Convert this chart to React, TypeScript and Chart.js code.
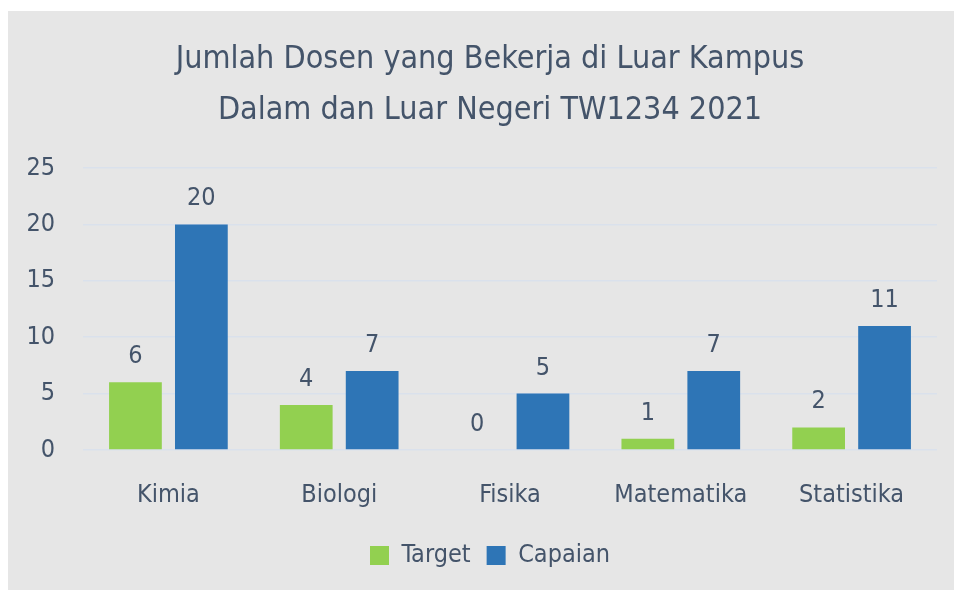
import React, { useEffect, useRef } from "react";
import { Chart, registerables } from "chart.js";

Chart.register(...registerables);

const categories = ["Kimia", "Biologi", "Fisika", "Matematika", "Statistika"];
const targetValues = [6, 4, 0, 1, 2];
const capaianValues = [20, 7, 5, 7, 11];
const titleLines = ["Jumlah Dosen yang Bekerja di Luar Kampus", "Dalam dan Luar Negeri TW1234 2021"];
const seriesNames = ["Target", "Capaian"];

const FONT = "'DejaVu Sans Condensed', 'Liberation Sans', sans-serif";
const TEXT = "#44546a";

const valueLabels = {
  id: "valueLabels",
  afterDatasetsDraw(chart: any) {
    const ctx = chart.ctx;
    ctx.save();
    ctx.font = `25px ${FONT}`;
    ctx.fillStyle = TEXT;
    ctx.textAlign = "center";
    ctx.textBaseline = "alphabetic";
    chart.data.datasets.forEach((ds: any, di: number) => {
      const meta = chart.getDatasetMeta(di);
      meta.data.forEach((el: any, i: number) => {
        ctx.fillText(String(ds.data[i]), el.x, el.y - 19);
      });
    });
    ctx.restore();
  },
};

export default function App() {
  const ref = useRef<HTMLCanvasElement>(null);
  useEffect(() => {
    document.body.style.overflow = "hidden";
    document.documentElement.style.overflow = "hidden";
    const chart = new Chart(ref.current!, {
      type: "bar",
      data: {
        labels: categories,
        datasets: [
          { label: seriesNames[0], data: targetValues, backgroundColor: "#92d050" },
          { label: seriesNames[1], data: capaianValues, backgroundColor: "#2e75b6" },
        ],
      },
      options: {
        animation: false,
        responsive: false,
        maintainAspectRatio: false,
        layout: { padding: { left: 0, right: 0, top: 0, bottom: 12 } },
        datasets: { bar: { categoryPercentage: 0.772, barPercentage: 0.8 } },
        scales: {
          x: {
            grid: { display: false },
            border: { display: false },
            ticks: { color: TEXT, font: { family: FONT, size: 25 }, padding: 22 },
            afterFit: (s: any) => { s.height = 77; },
          },
          y: {
            min: 0,
            max: 25,
            ticks: { stepSize: 5, color: TEXT, font: { family: FONT, size: 25 }, padding: 28 },
            grid: { color: "#dae1ec", drawTicks: false, lineWidth: 1.5 },
            border: { display: false },
            afterFit: (s: any) => { s.width = 75; },
          },
          yRight: {
            position: "right",
            display: true,
            grid: { display: false },
            border: { display: false },
            ticks: { display: false },
            afterFit: (s: any) => { s.width = 35; },
          },
        },
        plugins: {
          title: {
            display: true,
            text: titleLines,
            color: TEXT,
            font: { family: FONT, size: 32, weight: "normal", lineHeight: 1.594 },
            padding: { top: 23, bottom: 32 },
          },
          legend: {
            position: "bottom",
            labels: {
              color: TEXT,
              font: { family: FONT, size: 25 },
              boxWidth: 19,
              boxHeight: 19,
              padding: 16,
            },
          },
          tooltip: { enabled: false },
        },
      },
      plugins: [valueLabels],
    });
    return () => chart.destroy();
  }, []);
  return (
    <div style={{ position: "fixed", left: 8, top: 11, width: 964, height: 579, background: "#e6e6e6" }}>
      <canvas ref={ref} width={964} height={579} style={{ display: "block" }} />
    </div>
  );
}
